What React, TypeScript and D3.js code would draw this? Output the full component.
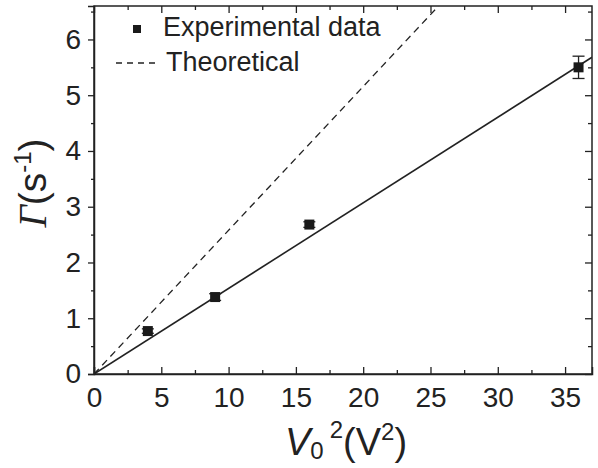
import React, { useRef, useEffect } from 'react';
import * as d3 from 'd3';

// experimental points: V0^2 (V^2), Gamma (s^-1), error
const voltSq = [4, 9, 16, 36];
const gamma = [0.77, 1.38, 2.68, 5.5];
const gammaErr = [0.04, 0.06, 0.05, 0.2];

// fitted line and theoretical line endpoints [x, y]
const fitLine: [number, number][] = [[0, 0], [37, 5.68]];
const theoryLine: [number, number][] = [[0, 0], [25.6, 6.6]];

const xTicks = [0, 5, 10, 15, 20, 25, 30, 35];
const yTicks = [0, 1, 2, 3, 4, 5, 6];

export default function App() {
  const svgRef = useRef<SVGSVGElement>(null);

  useEffect(() => {
    const W = 598, H = 468;
    const margin = { top: 6, right: 6, bottom: 94, left: 94 };
    const svg = d3.select(svgRef.current);
    svg.selectAll('*').remove();
    const font = 'Liberation Sans, Arial, sans-serif';

    const x = d3.scaleLinear().domain([0, 37]).range([margin.left, W - margin.right]);
    const y = d3.scaleLinear().domain([0, 6.6]).range([H - margin.bottom, margin.top]);

    const clipId = 'plotclip';
    svg.append('clipPath').attr('id', clipId)
      .append('rect')
      .attr('x', margin.left).attr('y', margin.top)
      .attr('width', x(37) - x(0)).attr('height', y(0) - y(6.6));

    const line = d3.line<[number, number]>().x(d => x(d[0])).y(d => y(d[1]));

    // lines
    svg.append('path').datum(theoryLine)
      .attr('d', line).attr('fill', 'none').attr('stroke', '#222')
      .attr('stroke-width', 1.3).attr('stroke-dasharray', '7,5')
      .attr('clip-path', `url(#${clipId})`);
    svg.append('path').datum(fitLine)
      .attr('d', line).attr('fill', 'none').attr('stroke', '#222')
      .attr('stroke-width', 1.6)
      .attr('clip-path', `url(#${clipId})`);

    // error bars + points
    const pts = voltSq.map((v, i) => ({ v, g: gamma[i], e: gammaErr[i] }));
    const eb = svg.append('g').attr('stroke', '#222').attr('stroke-width', 1.3);
    pts.forEach(p => {
      eb.append('line').attr('x1', x(p.v)).attr('x2', x(p.v))
        .attr('y1', y(p.g - p.e)).attr('y2', y(p.g + p.e));
      [p.g - p.e, p.g + p.e].forEach(val => {
        eb.append('line').attr('x1', x(p.v) - 6).attr('x2', x(p.v) + 6)
          .attr('y1', y(val)).attr('y2', y(val));
      });
    });
    svg.append('g').selectAll('rect').data(pts).join('rect')
      .attr('x', d => x(d.v) - 5).attr('y', d => y(d.g) - 5)
      .attr('width', 10).attr('height', 10).attr('fill', '#1a1a1a');

    // axes
    const bottom = svg.append('g').attr('transform', `translate(0,${y(0)})`)
      .call(d3.axisBottom(x).tickValues(xTicks).tickSize(-7).tickPadding(13).tickFormat(d3.format('d')));
    svg.append('g').attr('transform', `translate(0,${y(0)})`)
      .call(d3.axisBottom(x).tickValues(d3.range(2.5, 37, 5)).tickSize(-4).tickFormat(() => ''))
      .call(g => g.select('.domain').remove());
    const left = svg.append('g').attr('transform', `translate(${x(0)},0)`)
      .call(d3.axisLeft(y).tickValues(yTicks).tickSize(6).tickPadding(7).tickFormat(d3.format('d')));
    svg.append('g').attr('transform', `translate(${x(0)},0)`)
      .call(d3.axisLeft(y).tickValues(d3.range(0.5, 6.6, 1)).tickSize(3).tickFormat(() => ''))
      .call(g => g.select('.domain').remove());
    svg.append('g').attr('transform', `translate(0,${y(6.6)})`)
      .call(d3.axisTop(x).tickValues(xTicks).tickSize(-7).tickFormat(() => ''))
      .call(g => g.select('.domain').remove());
    svg.append('g').attr('transform', `translate(0,${y(6.6)})`)
      .call(d3.axisTop(x).tickValues(d3.range(2.5, 37, 5)).tickSize(-4).tickFormat(() => ''))
      .call(g => g.select('.domain').remove());
    svg.append('g').attr('transform', `translate(${x(37)},0)`)
      .call(d3.axisRight(y).tickValues(yTicks).tickSize(-7).tickFormat(() => ''))
      .call(g => g.select('.domain').remove());
    svg.append('g').attr('transform', `translate(${x(37)},0)`)
      .call(d3.axisRight(y).tickValues(d3.range(0.5, 6.6, 1)).tickSize(-4).tickFormat(() => ''))
      .call(g => g.select('.domain').remove());

    svg.append('rect')
      .attr('x', x(0)).attr('y', y(6.6))
      .attr('width', x(37) - x(0)).attr('height', y(0) - y(6.6))
      .attr('fill', 'none').attr('stroke', '#222').attr('stroke-width', 1.5);

    svg.selectAll('.tick line').attr('stroke', '#222').attr('stroke-width', 1.3);
    svg.selectAll('.domain').attr('stroke', '#222').attr('stroke-width', 1.5);
    [bottom, left].forEach(g => g.selectAll('text')
      .attr('font-family', font).attr('font-size', 28).attr('fill', '#222'));

    // axis titles
    const yt = svg.append('text')
      .attr('transform', `translate(46,183) rotate(-90)`)
      .attr('text-anchor', 'middle').attr('font-family', font)
      .attr('font-size', 39).attr('fill', '#222');
    yt.append('tspan').attr('font-family', 'Liberation Serif, serif').attr('font-style', 'italic').text('Γ');
    yt.append('tspan').text('(s');
    yt.append('tspan').attr('font-size', 24).attr('dy', -15).text('-1');
    yt.append('tspan').attr('dy', 15).text(')');

    const xt = svg.append('text')
      .attr('x', 346).attr('y', 455)
      .attr('text-anchor', 'middle').attr('font-family', font)
      .attr('font-size', 38).attr('fill', '#222');
    xt.append('tspan').attr('font-style', 'italic').text('V');
    xt.append('tspan').attr('font-size', 24).attr('dy', 4).attr('dx', 0).text('0');
    xt.append('tspan').attr('font-size', 24).attr('dy', -21).attr('dx', 6).text('2');
    xt.append('tspan').attr('dy', 17).text('(V');
    xt.append('tspan').attr('font-size', 24).attr('dy', -15).text('2');
    xt.append('tspan').attr('dy', 15).text(')');

    // legend
    const lg = svg.append('g');
    lg.append('rect').attr('x', 133).attr('y', 25).attr('width', 8).attr('height', 8).attr('fill', '#1a1a1a');
    lg.append('text').attr('x', 163).attr('y', 36).attr('font-family', font)
      .attr('font-size', 27).attr('fill', '#222').text('Experimental data');
    lg.append('line').attr('x1', 116).attr('x2', 158).attr('y1', 63).attr('y2', 63)
      .attr('stroke', '#222').attr('stroke-width', 1.3).attr('stroke-dasharray', '6,5');
    lg.append('text').attr('x', 166).attr('y', 71).attr('font-family', font)
      .attr('font-size', 27).attr('fill', '#222').text('Theoretical');
  }, []);

  return (
    <svg ref={svgRef} width={598} height={468}
      style={{ position: 'absolute', left: 0, top: 0, background: '#fff' }} />
  );
}
